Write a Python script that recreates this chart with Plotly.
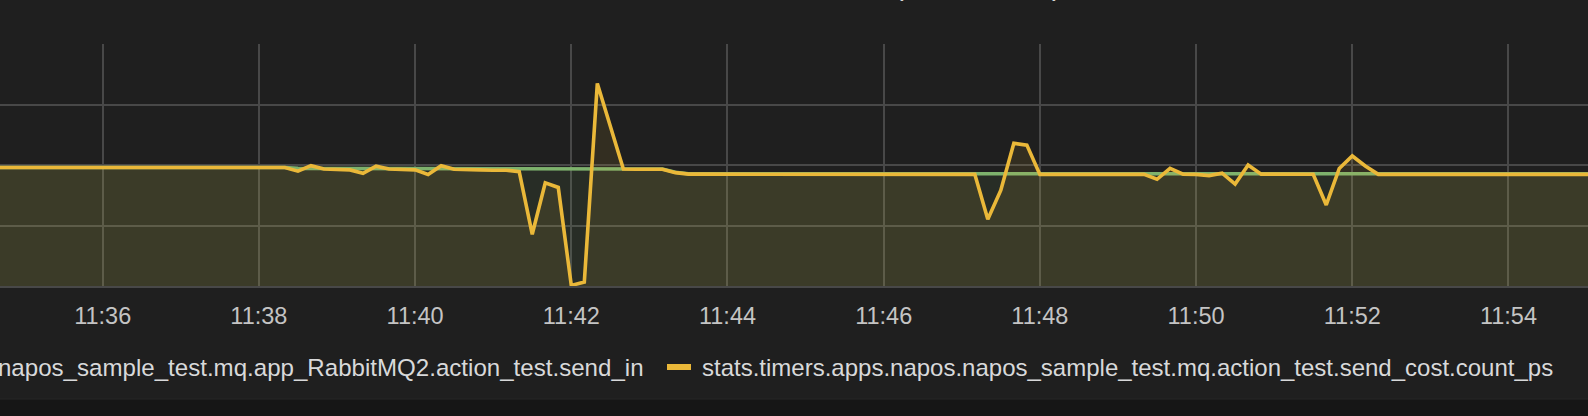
import plotly.graph_objects as go
import pandas as pd

# ---- data (10 s samples) ----
start_time = "2017-06-01 11:34:40"
send_cost_count_ps = [
    1.96, 1.96, 1.96, 1.96, 1.96, 1.96, 1.96, 1.96,
    1.95, 1.95, 1.95, 1.95, 1.95, 1.95, 1.95, 1.95,
    1.96, 1.96, 1.96, 1.96, 1.96, 1.96, 1.96,
    1.90, 1.99, 1.935, 1.925, 1.92, 1.865, 1.98, 1.935, 1.925, 1.92,
    1.845, 1.99, 1.93, 1.92, 1.92, 1.915, 1.915, 1.89, 0.855, 1.705,
    1.63, 0.01, 0.065, 3.35, 2.635, 1.935, 1.93, 1.93, 1.93, 1.875, 1.85,
    1.85, 1.85, 1.848, 1.85, 1.852, 1.85, 1.85, 1.848, 1.85, 1.85, 1.845,
    1.85, 1.85, 1.85, 1.848, 1.85, 1.85, 1.85, 1.848, 1.85, 1.85,
    1.846, 1.105, 1.585, 2.36, 2.33, 1.846,
    1.846, 1.846, 1.846, 1.846, 1.846, 1.846, 1.846, 1.846,
    1.765, 1.945, 1.85, 1.846, 1.825, 1.865, 1.685, 2.0, 1.85,
    1.848, 1.848, 1.848, 1.848,
    1.34, 1.945, 2.15, 1.985,
    1.846, 1.846, 1.846, 1.846, 1.846, 1.846, 1.846, 1.846, 1.846,
    1.846, 1.846, 1.846, 1.846, 1.846, 1.846, 1.846, 1.846, 1.846,
]
send_in = [
    1.96, 1.96, 1.96, 1.96, 1.96, 1.96, 1.96, 1.96,
    1.95, 1.95, 1.95, 1.95, 1.95, 1.95, 1.95, 1.95,
    1.96, 1.96, 1.96, 1.96, 1.96, 1.96, 1.96,
    1.945, 1.945, 1.945, 1.945, 1.945, 1.945, 1.945, 1.945, 1.945,
    1.945, 1.945, 1.945, 1.945, 1.945, 1.945, 1.945, 1.945,
    1.94, 1.94, 1.94, 1.94, 1.94, 1.94, 1.94, 1.94,
    1.935, 1.935, 1.935, 1.935, 1.88, 1.856,
    1.856, 1.856, 1.856, 1.856, 1.856, 1.856, 1.856, 1.856, 1.856, 1.856,
    1.856, 1.856, 1.856, 1.856, 1.856, 1.856, 1.856, 1.856, 1.856, 1.856,
    1.856, 1.856, 1.856, 1.856, 1.856, 1.856, 1.856, 1.856, 1.856, 1.856,
    1.856, 1.856, 1.856, 1.856, 1.856, 1.856, 1.856, 1.856, 1.856, 1.856,
    1.856, 1.856, 1.856, 1.856, 1.856, 1.856, 1.856, 1.856, 1.856, 1.856,
    1.856, 1.856, 1.856, 1.856, 1.856, 1.856, 1.856, 1.856, 1.856, 1.856,
    1.856, 1.856, 1.856, 1.856, 1.856, 1.856, 1.856, 1.856, 1.856, 1.856,
]
series_names = [
    "stats.counters.apps.napos.napos_sample_test.mq.app_RabbitMQ2.action_test.send_in",
    "stats.timers.apps.napos.napos_sample_test.mq.action_test.send_cost.count_ps",
]
panel_title = "Send stats (total events)"
x_range = ["2017-06-01 11:34:41.1", "2017-06-01 11:55:01.1"]
tick_start = "2017-06-01 11:36:00"

times = pd.date_range(start_time, periods=len(send_cost_count_ps), freq="10s")

W, H = 1588, 416
T, B = 44, 130
PH = H - T - B  # plot height in px


def py(px_y):
    return (H - B - px_y) / PH


def px(px_x):
    return px_x / W


fig = go.Figure()
fig.add_trace(go.Scatter(
    x=times, y=send_in, mode="lines", name=series_names[0],
    line=dict(color="#7EB26D", width=3.6), fill="tozeroy",
    fillcolor="rgba(126,178,109,0.1)", showlegend=False, hoverinfo="skip"))
fig.add_trace(go.Scatter(
    x=times, y=send_cost_count_ps, mode="lines", name=series_names[1],
    line=dict(color="#EAB839", width=3.6), fill="tozeroy",
    fillcolor="rgba(234,184,57,0.1)", showlegend=False, hoverinfo="skip"))

grid = "#484848"
fig.update_layout(
    width=W, height=H,
    margin=dict(l=0, r=0, t=T, b=B, pad=0),
    paper_bgcolor="#1f1f1f", plot_bgcolor="#1f1f1f",
    font=dict(family="Liberation Sans, Arial, sans-serif", color="#c4c4c4"),
    xaxis=dict(
        type="date", range=x_range, tick0=tick_start, dtick=120000,
        tickformat="%H:%M", showgrid=True, gridcolor=grid, gridwidth=2,
        showline=True, linecolor=grid, linewidth=2, ticks="",
        ticklabelstandoff=8, tickfont=dict(size=23.5, color="#c4c4c4"),
        zeroline=False, fixedrange=True),
    yaxis=dict(
        range=[0, 4.002], dtick=1, tick0=0, showticklabels=False,
        showgrid=True, gridcolor=grid, gridwidth=2, zeroline=False,
        showline=False, fixedrange=True),
    showlegend=False,
)

# bottom darker strip of the page
fig.add_shape(type="rect", xref="paper", yref="paper", x0=-0.01, x1=1.01,
              y0=py(399), y1=py(430), fillcolor="#161616", line_width=0,
              layer="below")
fig.add_shape(type="line", xref="paper", yref="paper", x0=-0.01, x1=1.01,
              y0=py(399), y1=py(399), line=dict(color="#262626", width=1))

# legend (drawn as text, it is cut off on the left like the reference)
fig.add_annotation(text=series_names[0], xref="paper", yref="paper",
                   x=px(646), y=py(367), xanchor="right", yanchor="middle",
                   showarrow=False, font=dict(size=24.1, color="#d8d9da"))
fig.add_shape(type="rect", xref="paper", yref="paper", x0=px(667), x1=px(691),
              y0=py(364), y1=py(370), fillcolor="#EAB839", line_width=0)
fig.add_annotation(text=series_names[1], xref="paper", yref="paper",
                   x=px(700), y=py(367), xanchor="left", yanchor="middle",
                   showarrow=False, font=dict(size=24.0, color="#d8d9da"))

# panel title, almost entirely above the visible area
fig.add_annotation(text=panel_title, xref="paper", yref="paper",
                   x=px(1064), y=py(3.5), xanchor="right", yanchor="bottom",
                   showarrow=False, font=dict(size=29, color="#d8d9da"))

fig.write_html(
    "out.html",
    config={"displayModeBar": False},
    post_script="document.body.style.margin='0';document.body.style.overflow='hidden';",
)
